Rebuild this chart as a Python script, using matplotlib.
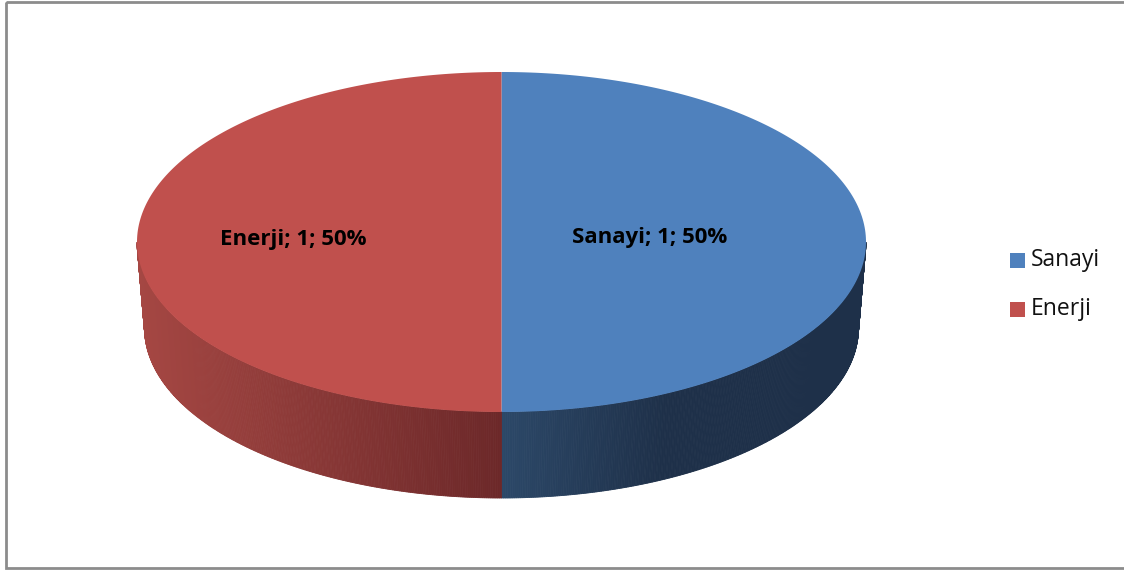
import matplotlib.pyplot as plt
import numpy as np
from matplotlib.patches import Polygon, Rectangle

# data
categories = ["Sanayi", "Enerji"]
values = [1, 1]
top_colors = ["#4F81BD", "#C0504D"]

W, H = 1124, 572
fig = plt.figure(figsize=(W / 100, H / 100), dpi=100)
ax = fig.add_axes([0, 0, 1, 1])
ax.set_xlim(0, W)
ax.set_ylim(H, 0)
ax.axis("off")

# chart frame
ax.add_patch(Rectangle((5.5, 1.5), W + 10, 566, fill=False, edgecolor="#8c8c8c", lw=2))

# pie geometry (pixels)
cx, cy = 501.5, 242
rx, ry = 364.5, 170
depth = 86
rx_bot = 357  # slight perspective on the bottom rim


def pt(theta, r=rx, dy=0):
    # theta: degrees clockwise from 12 o'clock
    t = np.radians(theta)
    return cx + r * np.sin(t), cy + dy - ry * np.cos(t)


def side_color(i, x):
    f = (x - cx) / rx
    if i == 1:  # red, left side
        a = np.array([165, 71, 67]) / 255
        b = np.array([108, 40, 41]) / 255
        k = np.clip(1 + f, 0, 1)
        return a + (b - a) * k
    a = np.array([44, 72, 104]) / 255
    b = np.array([30, 48, 73]) / 255
    k = np.clip(f / 0.45, 0, 1)
    return a + (b - a) * k


total = float(sum(values))
start = 0.0
wedges = []
for v in values:
    span = 360.0 * v / total
    wedges.append((start, start + span))
    start += span

# side faces (front half visible: 90..270 degrees)
for i, (a0, a1) in enumerate(wedges):
    lo, hi = max(a0, 90), min(a1, 270)
    if lo >= hi:
        continue
    ths = np.linspace(lo, hi, 300)
    for t0, t1 in zip(ths[:-1], ths[1:]):
        x0, y0 = pt(t0)
        x1, y1 = pt(t1)
        bx0, by0 = pt(t0, rx_bot, depth)
        bx1, by1 = pt(t1, rx_bot, depth)
        c = side_color(i, (x0 + x1) / 2)
        ax.add_patch(Polygon([(x0, y0), (x1, y1), (bx1, by1), (bx0, by0)],
                             closed=True, facecolor=c, edgecolor=c, lw=0.6))

# top faces
for i, (a0, a1) in enumerate(wedges):
    ths = np.linspace(a0, a1, 200)
    pts = [(cx, cy)] + [pt(t) for t in ths]
    ax.add_patch(Polygon(pts, closed=True, facecolor=top_colors[i], edgecolor="none"))

# data labels
label_pos = [(650, 238), (293.5, 240)]
for i, cat in enumerate(categories):
    pct = 100 * values[i] / total
    ax.text(label_pos[i][0], label_pos[i][1], f"{cat}; {values[i]}; {pct:.0f}%",
            ha="center", va="center", fontsize=16, fontweight="bold",
            family="Open Sans", color="black")

# legend
leg_y = [260.5, 309]
for i, cat in enumerate(categories):
    ax.add_patch(Rectangle((1010, leg_y[i] - 7.5), 15, 15, facecolor=top_colors[i], edgecolor="none"))
    ax.text(1031, leg_y[i], cat, ha="left", va="center", fontsize=16.5,
            family="Open Sans", color="#111111")

fig.savefig("out.png", dpi=100)
